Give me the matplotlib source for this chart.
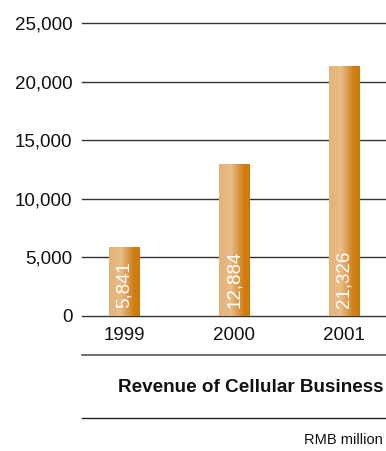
import numpy as np
import matplotlib.pyplot as plt
from matplotlib.colors import LinearSegmentedColormap

plt.rcParams['font.family'] = ['Liberation Sans', 'DejaVu Sans']

years = ["1999", "2000", "2001"]
revenue = [5841, 12884, 21326]
value_labels = ["5,841", "12,884", "21,326"]
y_ticks = [0, 5000, 10000, 15000, 20000, 25000]
y_tick_labels = ["0", "5,000", "10,000", "15,000", "20,000", "25,000"]

W, H = 386, 451
fig = plt.figure(figsize=(W / 100, H / 100), dpi=100)
ax = fig.add_axes([82 / W, (H - 316) / H, 1 - 82 / W, (316 - 23) / H])

# left-to-right shading of each bar
bar_cmap = LinearSegmentedColormap.from_list(
    "bar", [(0.0, "#e2b27a"), (0.38, "#e8bd86"), (0.62, "#d9984e"),
            (0.8, "#d0800f"), (1.0, "#cd790a")])
grad = np.linspace(0, 1, 64).reshape(1, -1)

x = np.arange(len(years))
width = 0.28

# horizontal rules at each tick level
for t in y_ticks:
    ax.axhline(t, color="#333333", lw=1.0, clip_on=False, zorder=1)

for xi, v, lab in zip(x, revenue, value_labels):
    ax.imshow(grad, extent=[xi - width / 2, xi + width / 2, 0, v],
              aspect="auto", cmap=bar_cmap, zorder=2)
    ax.text(xi, 650, lab, rotation=90, color="white", fontsize=13.5,
            ha="center", va="bottom", zorder=3)

ax.set_xlim(-0.386, 2.378)
ax.set_ylim(0, 25000)
ax.set_yticks(y_ticks)
ax.set_yticklabels(y_tick_labels, fontsize=13.5, color="#111111")
ax.set_xticks(x)
ax.set_xticklabels(years, fontsize=13.5, color="#111111")
ax.tick_params(length=0, pad=8)
ax.tick_params(axis="y", pad=7)
for s in ax.spines.values():
    s.set_visible(False)

# rules and captions underneath
fig.add_artist(plt.Line2D([82 / W, 1], [1 - 355 / H] * 2, color="#555555", lw=1.2))
fig.add_artist(plt.Line2D([82 / W, 1], [1 - 418 / H] * 2, color="#222222", lw=1.0))
fig.text(384 / W, 1 - 388 / H, "Revenue of Cellular Business", fontsize=13.6,
         fontweight="bold", ha="right", va="center", color="#111111")
fig.text(383 / W, 1 - 440 / H, "RMB million", fontsize=10.5,
         ha="right", va="center", color="#111111")

plt.savefig("out.png", dpi=100)
